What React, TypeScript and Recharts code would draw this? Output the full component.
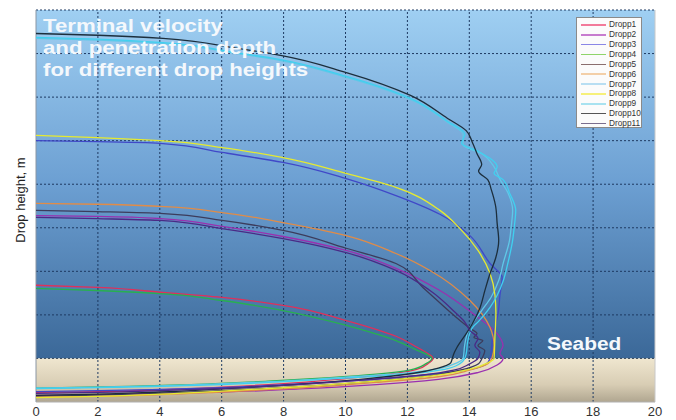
import React from 'react';
import { LineChart, Line, XAxis, YAxis, ReferenceArea, ReferenceLine } from 'recharts';

const SERIES_NAMES = ['Dropp1', 'Dropp2', 'Dropp3', 'Dropp4', 'Dropp5', 'Dropp6', 'Dropp7', 'Dropp8', 'Dropp9', 'Dropp10', 'Dropp11'];
const LINE_COLORS = ['#e0305a', '#9a30b0', '#4048c8', '#28b050', '#3c3c5c', '#e08c48', '#60c8e8', '#e6ea30', '#40d0f0', '#1c2e3c', '#4a2a86'];
const LEGEND_COLORS = ['#f27a9a', '#c77ccf', '#8a86e6', '#8fd46a', '#8a6e6e', '#f3cfa8', '#b8def2', '#f6f07a', '#a8e2f0', '#555555', '#7a6e8e'];
const X_TICKS = [0, 2, 4, 6, 8, 10, 12, 14, 16, 18, 20];
const Y_GRID = [1, 2, 3, 4, 5, 6, 7];
const TITLE_LINES = ['Terminal velocity', 'and penetration depth', 'for different drop heights'];

// [velocity, height] pairs
const dropp1 = [[0,1.68],[1.97,1.63],[4.01,1.52],[6.01,1.40],[7.98,1.22],[10.02,0.87],[11.11,0.64],[11.63,0.51],[12.25,0.28],[12.67,0.11],[12.83,0],[12.7,-0.1],[12.3,-0.25],[11.3,-0.37],[10,-0.46],[8,-0.58],[6,-0.66],[4,-0.72],[2,-0.76],[0,-0.78]];
const dropp2 = [[0,3.28],[1.97,3.26],[4.01,3.21],[6.01,3.03],[7.98,2.80],[10.02,2.48],[11.63,2.07],[13.05,1.56],[14.12,1.03],[14.9,0.57],[15.09,0.30],[14.99,0.11],[15.09,0],[14.9,-0.15],[14.3,-0.32],[13,-0.48],[11,-0.6],[8.5,-0.7],[6,-0.77],[4,-0.8],[2,-0.83],[0,-0.85]];
const dropp3 = [[0,5.00],[1.97,4.98],[4.01,4.94],[6.01,4.73],[7.98,4.50],[10.02,4.13],[11.63,3.74],[13.05,3.31],[14.02,2.82],[14.67,2.18],[15.06,1.86],[14.99,1.45],[14.93,1.03],[14.77,0.57],[14.67,0],[14.5,-0.15],[13.8,-0.28],[12.5,-0.38],[10.5,-0.5],[8,-0.6],[6,-0.67],[4,-0.71],[2,-0.74],[0,-0.76]];
const dropp4 = [[0,1.61],[1.97,1.56],[4.01,1.49],[6.01,1.33],[7.98,1.10],[10.02,0.76],[11.63,0.41],[12.25,0.21],[12.73,0.05],[12.79,0],[12.6,-0.12],[12.1,-0.26],[11,-0.36],[9.5,-0.44],[7.5,-0.52],[5,-0.6],[2.5,-0.65],[0,-0.68]];
const dropp5 = [[0,3.40],[1.97,3.37],[4.01,3.33],[6.01,3.17],[7.98,2.94],[10.02,2.53],[11.63,2.18],[12.5,1.63],[13.7,0.87],[14.02,0.69],[14.25,0.57],[14.15,0.48],[14.44,0.41],[14.28,0.30],[14.5,0.18],[14.41,0],[14.3,-0.12],[13.7,-0.27],[12.7,-0.4],[11,-0.52],[8.5,-0.65],[6,-0.74],[4,-0.8],[2,-0.84],[0,-0.87]];
const dropp6 = [[0,3.56],[1.97,3.54],[4.01,3.49],[6.01,3.35],[7.98,3.12],[10.02,2.82],[11.63,2.41],[12.73,2.02],[14.02,1.33],[14.67,0.71],[14.8,0.30],[14.73,0],[14.6,-0.12],[14.0,-0.27],[13,-0.42],[11,-0.55],[8.5,-0.68],[6,-0.77],[4,-0.83],[2,-0.87],[0,-0.89]];
const dropp7 = [[0,7.35],[2,7.31],[4.1,7.23],[6.3,7.02],[7.9,6.84],[10,6.46],[12.1,5.95],[13.3,5.42],[13.8,5.14],[13.8,4.9],[14.4,4.7],[14.8,4.4],[15.0,4.1],[15.25,3.8],[15.4,3.4],[15.35,3.0],[15.3,2.71],[15.1,2.2],[14.95,1.79],[14.7,1.4],[14.4,1.1],[14.1,0.8],[13.95,0.6],[13.85,0.3],[13.8,0],[13.6,-0.1],[13.1,-0.22],[12,-0.33],[10,-0.43],[8,-0.52],[6,-0.58],[4,-0.63],[2,-0.66],[0,-0.68]];
const dropp8 = [[0,5.12],[1.97,5.07],[4.01,5.00],[6.01,4.84],[7.98,4.61],[10.02,4.25],[11.63,3.93],[13.05,3.40],[13.7,2.98],[14.28,2.48],[14.67,1.95],[14.83,1.45],[14.86,1.03],[14.83,0.53],[14.8,0],[14.6,-0.1],[14.0,-0.25],[12.8,-0.4],[11,-0.52],[8.5,-0.65],[6,-0.75],[4,-0.82],[2,-0.87],[0,-0.9]];
const dropp9 = [[0,7.37],[2,7.33],[4.1,7.25],[6.3,7.04],[7.9,6.86],[10,6.48],[12.1,5.97],[13.3,5.44],[13.86,5.15],[13.75,4.94],[14.3,4.75],[14.9,4.4],[14.8,4.25],[15.1,4.1],[15.3,3.8],[15.5,3.4],[15.45,3.0],[15.4,2.71],[15.25,2.2],[15.1,1.79],[14.9,1.45],[14.67,1.17],[14.3,0.85],[14.1,0.71],[13.95,0.4],[13.9,0.11],[13.85,0],[13.7,-0.12],[13.2,-0.25],[12,-0.36],[10,-0.45],[8,-0.53],[6,-0.6],[4,-0.64],[2,-0.67],[0,-0.69]];
const dropp10 = [[0,7.46],[2,7.42],[4.1,7.35],[6.3,7.14],[7.9,6.96],[10,6.57],[12.1,6.04],[13.3,5.51],[13.9,5.23],[14.1,4.96],[14.25,4.7],[14.4,4.45],[14.3,4.3],[14.6,4.1],[14.7,3.9],[14.85,3.5],[14.9,3.1],[14.95,2.71],[14.85,2.3],[14.67,1.95],[14.5,1.55],[14.35,1.17],[14.1,0.8],[13.9,0.57],[13.6,0.25],[13.5,0.11],[13.45,0],[13.4,-0.1],[13.0,-0.22],[12.2,-0.34],[10.5,-0.48],[8,-0.62],[6,-0.7],[4,-0.77],[2,-0.82],[0,-0.85]];
const dropp11 = [[0,3.24],[1.97,3.21],[4.01,3.17],[6.01,2.98],[7.98,2.75],[10.02,2.43],[11.63,2.02],[12.73,1.56],[13.54,1.06],[13.86,0.83],[14.02,0.64],[14.28,0.46],[14.18,0.30],[14.34,0.14],[14.28,0],[14.0,-0.13],[13.5,-0.27],[12.5,-0.38],[10.5,-0.5],[8,-0.62],[6,-0.69],[4,-0.74],[2,-0.78],[0,-0.8]];

const ALL_DROPS = [dropp1, dropp2, dropp3, dropp4, dropp5, dropp6, dropp7, dropp8, dropp9, dropp10, dropp11];

export default function App() {
  const font = "'Liberation Sans', Arial, sans-serif";
  return (
    <div style={{ position: 'relative', width: 660, height: 412, fontFamily: font }}>
      <LineChart width={660} height={412} margin={{ top: 2, right: 13, bottom: 0, left: 28 }}>
        <defs>
          <linearGradient id="sky" x1="0" y1="0" x2="0" y2="1">
            <stop offset="0%" stopColor="#9fcff2" />
            <stop offset="50%" stopColor="#6c9fd2" />
            <stop offset="100%" stopColor="#3b6898" />
          </linearGradient>
          <linearGradient id="sand" x1="0" y1="0" x2="0" y2="1">
            <stop offset="0%" stopColor="#efe6cf" />
            <stop offset="60%" stopColor="#d8cdb4" />
            <stop offset="100%" stopColor="#b0a690" />
          </linearGradient>
        </defs>
        <XAxis type="number" dataKey="x" domain={[0, 20]} ticks={X_TICKS} tickLine={false} tickSize={4} tickMargin={1}
          axisLine={{ stroke: '#b0b0b0' }} height={18} tick={{ fill: '#333', fontSize: 13, fontFamily: font }} allowDataOverflow />
        <YAxis type="number" dataKey="y" domain={[-1, 8]} hide allowDataOverflow />
        <ReferenceArea x1={0} x2={20} y1={0} y2={8} fill="url(#sky)" fillOpacity={1} stroke="none" />
        <ReferenceArea x1={0} x2={20} y1={-1} y2={0} fill="url(#sand)" fillOpacity={1} stroke="none" />
        {X_TICKS.slice(1, -1).map((t) => (
          <ReferenceLine key={'vx' + t} x={t} stroke="#1e3a62" strokeDasharray="2 2" strokeWidth={1} />
        ))}
        {Y_GRID.map((t) => (
          <ReferenceLine key={'hy' + t} y={t} stroke="#1e3a62" strokeDasharray="2 2" strokeWidth={1} />
        ))}
        <ReferenceLine y={8} stroke="#1e3a62" strokeDasharray="2 2" />
        <ReferenceLine y={0} stroke="#3a4a5a" strokeDasharray="2 2" />
        <ReferenceLine x={0} stroke="#8a96a4" />
        <ReferenceLine x={20} stroke="#c8c8c8" />
        {ALL_DROPS.map((d, i) => (
          <Line key={SERIES_NAMES[i]} name={SERIES_NAMES[i]} data={d.map(([x, y]) => ({ x, y }))}
            dataKey="y" type="monotoneY" stroke={LINE_COLORS[i]} strokeWidth={1.3} dot={false} activeDot={false}
            isAnimationActive={false} />
        ))}
      </LineChart>

      <div style={{ position: 'absolute', left: 35, top: 7, color: '#f4f8fc', fontWeight: 'bold', fontSize: 18.5, lineHeight: '22px', transform: 'scaleX(1.2)', transformOrigin: 'left top', whiteSpace: 'nowrap' }}>
        {TITLE_LINES.map((l) => <div key={l}>{l}</div>)}
      </div>
      <div style={{ position: 'absolute', left: 539, top: 325, color: '#f4f8fc', fontWeight: 'bold', fontSize: 18, lineHeight: '22px', transform: 'scaleX(1.16)', transformOrigin: 'left top', whiteSpace: 'nowrap' }}>
        Seabed
      </div>
      <div style={{ position: 'absolute', left: 12, top: 192, fontSize: 13, color: '#222', transform: 'translate(-50%, -50%) rotate(-90deg)', whiteSpace: 'nowrap' }}>
        Drop height, m
      </div>
      <div style={{ position: 'absolute', left: 568, top: 9, width: 66, height: 111, background: '#fbfbfb', border: '1px solid #8a8a8a', boxSizing: 'border-box', paddingTop: 2 }}>
        {SERIES_NAMES.map((n, i) => (
          <div key={n} style={{ display: 'flex', alignItems: 'center', height: 9.86 }}>
            <div style={{ marginLeft: 4, width: 25, height: 1.5, background: LEGEND_COLORS[i] }} />
            <div style={{ marginLeft: 3, fontSize: 8.3, color: '#333', lineHeight: '9px' }}>{n}</div>
          </div>
        ))}
      </div>
    </div>
  );
}
